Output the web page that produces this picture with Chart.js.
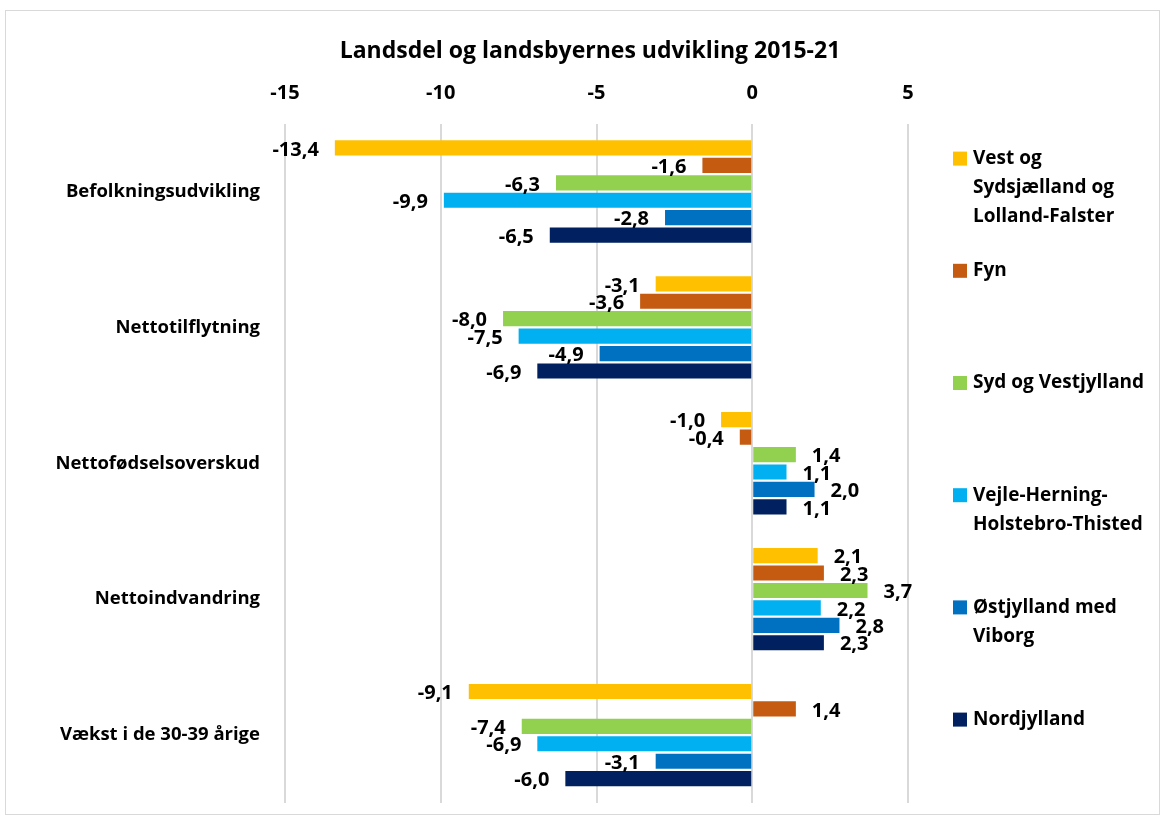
<!DOCTYPE html>
<html>
<head>
<meta charset="utf-8">
<script src="https://cdn.jsdelivr.net/npm/chart.js@4.4.1/dist/chart.umd.min.js"></script>
<style>
  body { margin: 0; background: #fff; }
</style>
</head>
<body>
<canvas id="chart" width="1165" height="820"></canvas>
<script>
// categories (y axis, top to bottom)
const categories = [
  "Befolkningsudvikling",
  "Nettotilflytning",
  "Nettofødselsoverskud",
  "Nettoindvandring",
  "Vækst i de 30-39 årige"
];

// series names (legend lines)
const seriesNames = [
  ["Vest og", "Sydsjælland og", "Lolland-Falster"],
  ["Fyn"],
  ["Syd og Vestjylland"],
  ["Vejle-Herning-", "Holstebro-Thisted"],
  ["Østjylland med", "Viborg"],
  ["Nordjylland"]
];

// values per series, same order as categories
const vestSydsjaelland = [-13.4, -3.1, -1.0, 2.1, -9.1];
const fyn              = [-1.6, -3.6, -0.4, 2.3, 1.4];
const sydVestjylland   = [-6.3, -8.0, 1.4, 3.7, -7.4];
const vejleHerning     = [-9.9, -7.5, 1.1, 2.2, -6.9];
const oestjylland      = [-2.8, -4.9, 2.0, 2.8, -3.1];
const nordjylland      = [-6.5, -6.9, 1.1, 2.3, -6.0];

const seriesColors = ["#FFC000", "#C55A11", "#92D050", "#00B0F0", "#0070C0", "#002060"];

const xMin = -15;
const xMax = 5;
const xStep = 5;

const FONT = "'Open Sans'";

const allSeries = [vestSydsjaelland, fyn, sydVestjylland, vejleHerning, oestjylland, nordjylland];

// white background + thin grey frame round the whole chart
const frame = {
  id: "frame",
  beforeDraw(chart) {
    const ctx = chart.ctx;
    ctx.save();
    ctx.fillStyle = "#fff";
    ctx.fillRect(0, 0, chart.width, chart.height);
    ctx.strokeStyle = "#d9d9d9";
    ctx.lineWidth = 1;
    ctx.strokeRect(5.5, 10.5, chart.width - 11, chart.height - 16);
    ctx.restore();
  }
};

// value labels at the outer end of each bar, with comma decimals
const valueLabels = {
  id: "valueLabels",
  afterDatasetsDraw(chart) {
    const ctx = chart.ctx;
    ctx.save();
    ctx.font = "bold 20px " + FONT;
    ctx.fillStyle = "#000";
    ctx.textBaseline = "middle";
    chart.data.datasets.forEach((ds, i) => {
      chart.getDatasetMeta(i).data.forEach((bar, j) => {
        const v = ds.data[j];
        const txt = v.toFixed(1).replace(".", ",");
        if (v < 0) {
          ctx.textAlign = "right";
          ctx.fillText(txt, bar.x - 16, bar.y + 2);
        } else {
          ctx.textAlign = "left";
          ctx.fillText(txt, bar.x + 16, bar.y + 2);
        }
      });
    });
    ctx.restore();
  }
};

// legend on the right, one entry per series, wrapped text
const sideLegend = {
  id: "sideLegend",
  afterDraw(chart) {
    const ctx = chart.ctx;
    const area = chart.chartArea;
    const x0 = area.right + 45;
    const step = 112.2;
    const lineH = 29;
    ctx.save();
    ctx.font = "bold 19px " + FONT;
    ctx.textBaseline = "middle";
    ctx.textAlign = "left";
    seriesNames.forEach((lines, i) => {
      const y = area.top + 35 + i * step;
      ctx.fillStyle = seriesColors[i];
      ctx.fillRect(x0, y - 7, 14, 14);
      ctx.fillStyle = "#000";
      lines.forEach((ln, k) => ctx.fillText(ln, x0 + 20, y + k * lineH));
    });
    ctx.restore();
  }
};

const datasets = allSeries.map((vals, i) => ({
  label: seriesNames[i].join(" "),
  data: vals,
  backgroundColor: seriesColors[i],
  borderWidth: 0,
  categoryPercentage: 0.77,
  barPercentage: 0.87
}));

const config = {
  type: "bar",
  data: { labels: categories, datasets: datasets },
  options: {
    indexAxis: "y",
    responsive: false,
    animation: false,
    layout: { padding: { left: 15, right: 0, top: 0, bottom: 17 } },
    plugins: {
      legend: { display: false },
      tooltip: { enabled: false },
      title: {
        display: true,
        text: "Landsdel og landsbyernes udvikling 2015-21",
        color: "#000",
        font: { family: FONT, size: 23, weight: "bold" },
        padding: { top: 38, bottom: 0 }
      }
    },
    scales: {
      x: {
        position: "top",
        min: xMin,
        max: xMax,
        ticks: {
          stepSize: xStep,
          color: "#000",
          padding: 18,
          font: { family: FONT, size: 20, weight: "bold" }
        },
        grid: { color: "#d9d9d9", lineWidth: 2, drawTicks: false },
        border: { display: false },
        afterFit(scale) { scale.height = 58; }
      },
      y: {
        ticks: {
          color: "#000",
          padding: 17,
          font: { family: FONT, size: 18.5, weight: "bold" }
        },
        grid: { display: false },
        border: { display: false },
        afterFit(scale) {
          scale.width = 270;
          scale.paddingTop = 0;
          scale.paddingBottom = 0;
        }
      },
      legendSpace: {
        type: "linear",
        axis: "y",
        position: "right",
        ticks: { display: false },
        grid: { display: false },
        border: { display: false },
        afterFit(scale) {
          scale.width = 257;
          scale.paddingTop = 0;
          scale.paddingBottom = 0;
        }
      }
    }
  },
  plugins: [frame, valueLabels, sideLegend]
};

const Charts = new Chart(document.getElementById("chart"), config);
</script>
</body>
</html>
